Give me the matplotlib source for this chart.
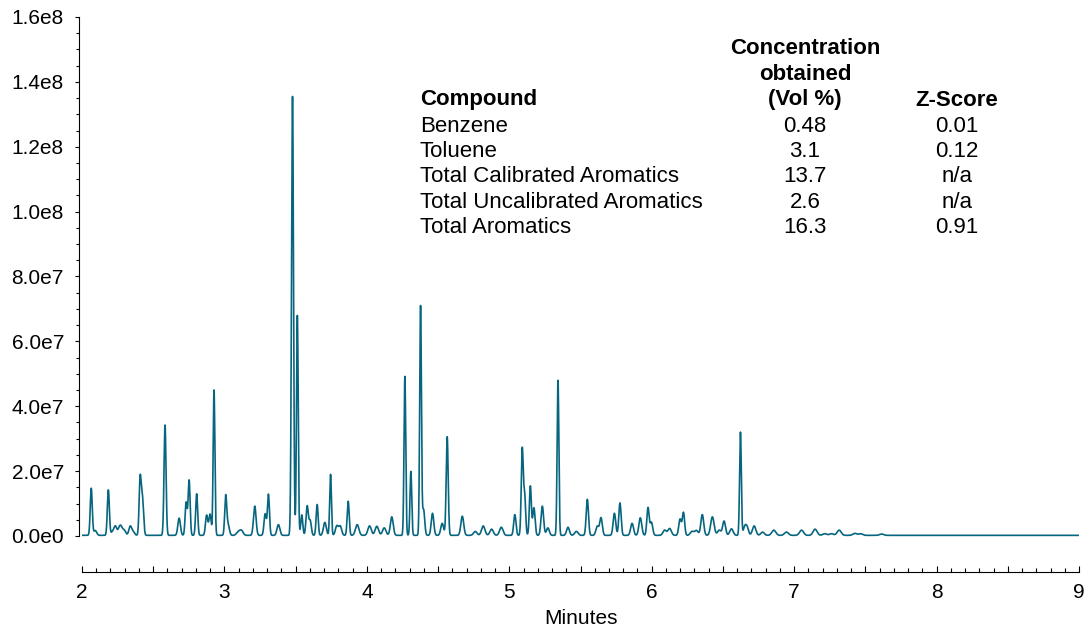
import numpy as np
import matplotlib.pyplot as plt
from matplotlib.ticker import MultipleLocator, FixedLocator

plt.rcParams['font.family'] = ['Liberation Sans', 'DejaVu Sans']

# peak table: retention time (min), height, width (sigma, min)
peak_rt = [2.065, 2.093, 2.185, 2.213, 2.234, 2.262, 2.276, 2.297, 2.339, 2.360,
           2.408, 2.424, 2.583, 2.682, 2.731, 2.752, 2.805, 2.875, 2.899, 2.927,
           3.009, 3.026, 3.096, 3.119, 3.213, 3.286, 3.309, 3.379, 3.478, 3.512,
           3.543, 3.581, 3.602, 3.651, 3.705, 3.745, 3.789, 3.813, 3.869, 3.932,
           4.019, 4.070, 4.122, 4.175, 4.267, 4.309, 4.377, 4.398, 4.461, 4.529,
           4.564, 4.670, 4.761, 4.817, 4.876, 4.944, 5.039, 5.091, 5.108, 5.148,
           5.173, 5.232, 5.271, 5.342, 5.412, 5.471, 5.548, 5.618, 5.644, 5.738,
           5.777, 5.862, 5.920, 5.974, 5.998, 6.091, 6.126, 6.199, 6.223, 6.283,
           6.314, 6.355, 6.426, 6.474, 6.508, 6.560, 6.623, 6.653, 6.670, 6.719,
           6.778, 6.857, 6.946, 7.052, 7.147, 7.215, 7.262, 7.316, 7.426, 7.466,
           7.614]
peak_height = [14.5, 1.5, 14.0, 1.0, 2.8, 2.0, 2.0, 1.5, 2.8, 1.0,
               17.0, 11.5, 34.0, 5.3, 10.1, 17.0, 12.8, 6.2, 6.5, 44.8,
               12.0, 3.2, 1.0, 1.5, 9.0, 6.6, 12.6, 3.3, 135.3, 67.8,
               6.3, 9.0, 4.5, 9.5, 4.0, 18.8, 2.9, 2.8, 10.5, 3.3,
               2.9, 2.8, 2.3, 5.7, 49.0, 19.7, 70.6, 8.0, 6.8, 3.7,
               30.4, 5.9, 1.2, 2.9, 1.9, 2.5, 6.4, 26.5, 12.0, 15.2,
               8.5, 9.0, 2.3, 47.8, 2.5, 1.2, 11.1, 2.8, 5.4, 6.8,
               10.0, 3.7, 5.4, 8.5, 4.0, 1.6, 2.1, 5.0, 7.0, 1.2,
               1.5, 6.4, 5.7, 1.6, 4.4, 2.0, 31.8, 2.5, 2.3, 2.9,
               1.0, 1.6, 1.0, 1.6, 1.9, 0.5, 0.5, 1.6, 0.6, 0.5,
               0.4]
peak_width = [0.007, 0.010, 0.007, 0.010, 0.010, 0.010, 0.010, 0.010, 0.010, 0.010,
              0.007, 0.008, 0.007, 0.009, 0.007, 0.007, 0.007, 0.008, 0.008, 0.006,
              0.007, 0.009, 0.012, 0.012, 0.009, 0.008, 0.007, 0.010, 0.007, 0.006,
              0.007, 0.008, 0.008, 0.007, 0.010, 0.006, 0.010, 0.010, 0.007, 0.012,
              0.012, 0.012, 0.012, 0.010, 0.006, 0.006, 0.006, 0.008, 0.009, 0.010,
              0.007, 0.010, 0.012, 0.012, 0.012, 0.012, 0.008, 0.007, 0.007, 0.007,
              0.008, 0.009, 0.010, 0.006, 0.010, 0.012, 0.008, 0.010, 0.009, 0.009,
              0.008, 0.010, 0.010, 0.008, 0.009, 0.012, 0.012, 0.009, 0.008, 0.012,
              0.012, 0.010, 0.012, 0.012, 0.010, 0.012, 0.006, 0.010, 0.010, 0.012,
              0.012, 0.014, 0.014, 0.014, 0.014, 0.014, 0.014, 0.014, 0.014, 0.014,
              0.014]
baseline = 0.2e6

compounds = ['Benzene', 'Toluene', 'Total Calibrated Aromatics',
             'Total Uncalibrated Aromatics', 'Total Aromatics']
concentration = ['0.48', '3.1', '13.7', '2.6', '16.3']
z_score = ['0.01', '0.12', 'n/a', 'n/a', '0.91']

y_ticks = [0, 2e7, 4e7, 6e7, 8e7, 1e8, 1.2e8, 1.4e8, 1.6e8]
y_tick_labels = ['0.0e0', '2.0e7', '4.0e7', '6.0e7', '8.0e7', '1.0e8', '1.2e8', '1.4e8', '1.6e8']

# %%
t = np.linspace(2.0, 9.0, 14001)
signal = np.full_like(t, baseline)
for c, h, s in zip(peak_rt, peak_height, peak_width):
    signal += h * 1e6 * np.exp(-0.5 * ((t - c) / s) ** 2)

fig = plt.figure(figsize=(10.89, 6.28), dpi=100)
ax = fig.add_axes([82 / 1089, 1 - 572 / 628, 997 / 1089, 555 / 628])
ax.plot(t, signal, color='#06657f', lw=1.2)

ax.set_xlim(2, 9)
ax.set_ylim(-1.11e7, 1.6e8)

for s in ['top', 'right']:
    ax.spines[s].set_visible(False)
ax.spines['left'].set_bounds(0, 1.6e8)
ax.spines['left'].set_position(('outward', 2))
ax.spines['left'].set_linewidth(0.8)
ax.spines['bottom'].set_linewidth(0.8)

ax.yaxis.set_major_locator(FixedLocator(y_ticks))
ax.set_yticklabels(y_tick_labels)
ax.yaxis.set_minor_locator(FixedLocator(np.arange(0, 1.6e8 + 1, 5e6)))
ax.tick_params(axis='y', which='major', direction='out', length=3, width=0.8, pad=8, labelsize=15)
ax.tick_params(axis='y', which='minor', direction='out', length=2, width=0.8)

ax.xaxis.set_major_locator(MultipleLocator(1))
ax.xaxis.set_minor_locator(MultipleLocator(0.1))
ax.tick_params(axis='x', which='major', direction='in', length=4.5, width=0.8, pad=8, labelsize=15)
ax.tick_params(axis='x', which='minor', direction='in', length=3, width=0.8)
for tk, loc in zip(ax.xaxis.get_minor_ticks(), ax.xaxis.get_minorticklocs()):
    if abs((loc % 1) - 0.5) < 1e-6:
        tk.tick1line.set_markersize(4)

ax.set_xlabel('Minutes', fontsize=15, labelpad=5)

# results table
fs = 16
def fy(py):
    return 1 - py / 628

for i, line in enumerate(['Concentration', 'obtained', '(Vol %)']):
    fig.text(805 / 1089, fy(48 + 26 * i), line, ha='center', va='center', fontsize=fs, fontweight='bold')
fig.text(420 / 1089, fy(100), 'Compound', ha='left', va='center', fontsize=fs, fontweight='bold')
fig.text(957 / 1089, fy(100), 'Z-Score', ha='center', va='center', fontsize=fs, fontweight='bold')
for i in range(len(compounds)):
    y = fy(126 + 25.5 * i)
    fig.text(420 / 1089, y, compounds[i], ha='left', va='center', fontsize=fs)
    fig.text(805 / 1089, y, concentration[i], ha='center', va='center', fontsize=fs)
    fig.text(957 / 1089, y, z_score[i], ha='center', va='center', fontsize=fs)

plt.savefig('out.png', dpi=100)
